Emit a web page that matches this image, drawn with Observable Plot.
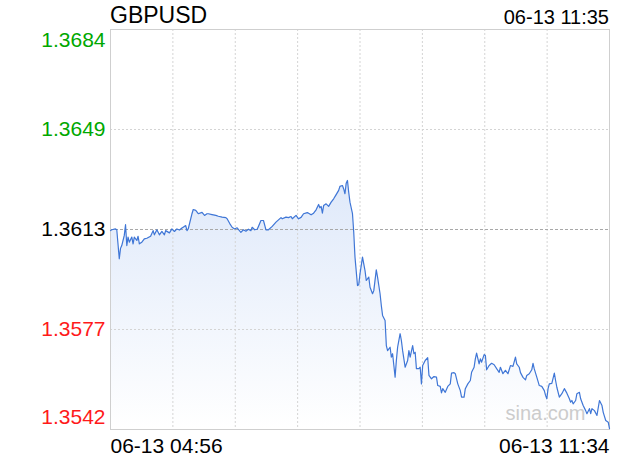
<!DOCTYPE html>
<html>
<head>
<meta charset="utf-8">
<script src="https://cdn.jsdelivr.net/npm/d3@7"></script>
<script src="https://cdn.jsdelivr.net/npm/@observablehq/plot@0.6"></script>
<style>
  body { margin: 0; background: #fff; font-family: "Liberation Sans", Arial, Helvetica, sans-serif; }
  #wrap { width: 620px; height: 460px; position: relative; overflow: hidden; }
  #head { position: relative; height: 27px; }
  #title { position: absolute; left: 110px; top: 4px; font-size: 23px; line-height: 1; color: #000; }
  #stamp { position: absolute; right: 11px; top: 7px; font-size: 20px; line-height: 1; color: #000; }
  svg { display: block; }
</style>
</head>
<body>
<div id="wrap">
  <div id="head"><span id="title"></span><span id="stamp"></span></div>
  <div id="chart"></div>
</div>
<script>
// ---- data ----
const symbol = "GBPUSD";
const stampLabel = "06-13 11:35";
const startLabel = "06-13 04:56";
const endLabel = "06-13 11:34";
const sessionMinutes = 398;           // 04:56 -> 11:34
const watermark = "sina.com";

// y ticks (price levels) and their labels
const tickValues = [1.3684, 1.36485, 1.3613, 1.35775, 1.3542];
const tickLabels = ["1.3684", "1.3649", "1.3613", "1.3577", "1.3542"];
const tickColors = ["#00a800", "#00a800", "#000000", "#ff1a1a", "#ff1a1a"];

// minutes after 04:56
const minutes = [0,1,4,5,7,8,9,11,12,13,14,15,17,18,19,21,22,23,25,27,29,32,34,35,37,39,41,43,44,47,49,51,53,55,57,58,60,61,62,63,65,66,68,70,73,75,77,
78,81,84,86,89,92,93,95,97,99,101,104,106,108,110,112,113,115,117,118,120,122,124,126,129,132,134,136,137,140,142,144,145,148,150,152,
154,157,160,162,164,166,167,168,169,170,172,174,176,178,180,182,183,185,186,187,188,189,190,191,193,194,195,197,198,199,201,203,204,206,207,209,210,
212,213,215,216,217,219,220,221,223,224,225,226,227,228,229,231,232,233,235,237,238,239,241,242,243,244,246,247,248,249,251,253,254,256,258,260,
261,263,264,265,267,269,271,272,274,275,277,279,280,282,283,285,287,288,290,291,292,294,295,296,298,299,300,302,304,306,308,310,311,313,315,317,
319,321,323,324,326,327,329,331,332,334,336,337,338,340,342,344,346,347,348,349,350,352,354,355,356,358,360,362,364,366,367,368,369,371,372,374,
375,377,379,380,382,383,384,386,388,390,392,393,395,397,398];

const prices = [1.36126,1.36129,1.36132,1.36129,1.36026,1.36063,1.36073,1.36109,1.36147,1.36073,1.36103,1.36085,1.36103,1.36079,1.36103,1.36091,1.36106,1.36079,1.36085,1.36097,1.36099,1.36106,1.36126,1.36111,1.36129,1.36111,1.36123,1.36111,1.36126,1.36118,1.36132,1.36123,1.36132,1.36128,1.36135,1.36138,1.36144,1.36126,1.36132,1.36150,1.36186,1.36201,1.36198,1.36186,1.36191,1.36180,1.36186,
1.36186,1.36183,1.36180,1.36177,1.36174,1.36172,1.36168,1.36152,1.36138,1.36132,1.36136,1.36120,1.36129,1.36124,1.36131,1.36126,1.36138,1.36129,1.36131,1.36141,1.36162,1.36162,1.36129,1.36129,1.36141,1.36156,1.36164,1.36172,1.36168,1.36174,1.36172,1.36176,1.36168,1.36180,1.36168,1.36173,
1.36186,1.36190,1.36182,1.36188,1.36200,1.36219,1.36207,1.36212,1.36188,1.36215,1.36221,1.36212,1.36227,1.36239,1.36254,1.36269,1.36283,1.36286,1.36274,1.36257,1.36294,1.36304,1.36262,1.36227,1.36186,1.36120,1.36032,1.35931,1.35934,1.35973,1.36032,1.35984,1.35949,1.35961,1.35925,1.35902,1.35913,
1.35987,1.35961,1.35902,1.35860,1.35825,1.35807,1.35718,1.35700,1.35712,1.35677,1.35689,1.35647,1.35606,1.35665,1.35712,1.35760,1.35736,1.35700,1.35641,1.35665,1.35700,1.35677,1.35718,1.35689,1.35694,1.35636,1.35636,1.35641,1.35582,1.35647,1.35665,1.35675,1.35612,1.35600,1.35608,1.35606,
1.35576,1.35573,1.35550,1.35565,1.35552,1.35573,1.35582,1.35620,1.35622,1.35618,1.35582,1.35558,1.35535,1.35535,1.35565,1.35582,1.35594,1.35623,1.35641,1.35671,1.35691,1.35653,1.35671,1.35659,1.35686,1.35683,1.35632,1.35647,1.35655,1.35650,1.35636,1.35623,1.35641,1.35618,1.35630,1.35618,
1.35647,1.35644,1.35677,1.35653,1.35641,1.35622,1.35605,1.35596,1.35612,1.35618,1.35632,1.35655,1.35635,1.35606,1.35576,1.35573,1.35558,1.35541,1.35529,1.35565,1.35582,1.35584,1.35620,1.35594,1.35570,1.35535,1.35547,1.35565,1.35549,1.35529,1.35517,1.35523,1.35511,1.35523,1.35547,1.35552,
1.35529,1.35505,1.35487,1.35476,1.35494,1.35476,1.35494,1.35487,1.35470,1.35523,1.35505,1.35481,1.35452,1.35446,1.35423];

// ---- build ----
const t0 = Date.UTC(2025, 5, 13, 4, 56);
const toTime = m => new Date(t0 + m * 60000);
const series = minutes.map((m, i) => ({t: toTime(m), p: prices[i]}));
const yMin = tickValues[tickValues.length - 1], yMax = tickValues[0];
const tStart = toTime(0), tEnd = toTime(sessionMinutes);
const vGrid = d3.range(1, 8).map(i => toTime(sessionMinutes * i / 8));
const ticks = tickValues.map((v, i) => ({v, label: tickLabels[i], color: tickColors[i]}));
const innerTicks = ticks.slice(1, -1);
const font = "'Liberation Sans', Arial, Helvetica, sans-serif";

document.getElementById("title").textContent = symbol;
document.getElementById("stamp").textContent = stampLabel;

const chart = Plot.plot({
  width: 620,
  height: 433,
  marginTop: 2,
  marginBottom: 31,
  marginLeft: 110,
  marginRight: 11,
  style: {fontFamily: font, background: "#fff", overflow: "visible"},
  x: {type: "utc", domain: [tStart, tEnd], axis: null},
  y: {domain: [yMin, yMax], axis: null},
  marks: [
    Plot.areaY(series, {x: "t", y1: () => yMin, y2: "p", fill: "url(#areaGrad)"}),
    Plot.ruleX(vGrid, {stroke: "#d4d4d4", strokeDasharray: "2,2"}),
    Plot.ruleY(innerTicks.filter(d => d.v !== 1.3613), {y: "v", stroke: "#d4d4d4", strokeDasharray: "2,2"}),
    Plot.ruleY(innerTicks.filter(d => d.v === 1.3613), {y: "v", stroke: "#a8a8a8", strokeDasharray: "3,2"}),
    Plot.frame({stroke: "#cfcfcf"}),
    Plot.line(series, {x: "t", y: "p", stroke: "#3f76d6", strokeWidth: 1.2}),
    Plot.text(ticks.slice(0, 1), {y: "v", text: "label", fill: "color", frameAnchor: "left", textAnchor: "end", lineAnchor: "top", dx: -5, dy: 3, fontSize: 21}),
    Plot.text(innerTicks, {y: "v", text: "label", fill: "color", frameAnchor: "left", textAnchor: "end", lineAnchor: "middle", dx: -5, fontSize: 21}),
    Plot.text(ticks.slice(-1), {y: "v", text: "label", fill: "color", frameAnchor: "left", textAnchor: "end", lineAnchor: "bottom", dx: -5, dy: -6, fontSize: 21}),
    Plot.text([startLabel], {text: d => d, frameAnchor: "bottom-left", textAnchor: "start", lineAnchor: "top", dy: 9, fontSize: 21, fill: "#000"}),
    Plot.text([endLabel], {text: d => d, frameAnchor: "bottom-right", textAnchor: "end", lineAnchor: "top", dy: 9, fontSize: 21, fill: "#000"}),
    Plot.text([watermark], {text: d => d, frameAnchor: "bottom-right", textAnchor: "end", lineAnchor: "bottom", dx: -24, dy: -10, fontSize: 20, fill: "#cccccc"})
  ]
});

// gradient definition for the area fill
const ns = "http://www.w3.org/2000/svg";
const defs = document.createElementNS(ns, "defs");
const grad = document.createElementNS(ns, "linearGradient");
grad.setAttribute("id", "areaGrad");
grad.setAttribute("x1", "0"); grad.setAttribute("y1", "0");
grad.setAttribute("x2", "0"); grad.setAttribute("y2", "1");
[["0%", "#dfe9fa"], ["100%", "#ffffff"]].forEach(([o, c]) => {
  const s = document.createElementNS(ns, "stop");
  s.setAttribute("offset", o); s.setAttribute("stop-color", c);
  grad.appendChild(s);
});
defs.appendChild(grad);
chart.insertBefore(defs, chart.firstChild);

document.getElementById("chart").appendChild(chart);
</script>
</body>
</html>
